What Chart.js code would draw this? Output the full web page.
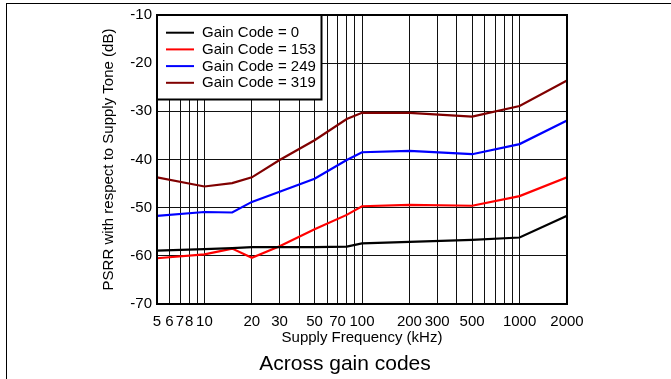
<!DOCTYPE html>
<html>
<head>
<meta charset="utf-8">
<script src="https://cdn.jsdelivr.net/npm/chart.js@4.4.0/dist/chart.umd.min.js"></script>
<style>
  html, body { margin: 0; padding: 0; background: #fff; }
  #wrap { position: relative; width: 671px; height: 379px; overflow: hidden; }
  #frame { position: absolute; left: 6px; top: 3px; right: -2px; bottom: -2px;
           border-top: 1px solid #000; border-left: 1px solid #000; pointer-events: none; }
  canvas { position: absolute; left: 0; top: 0; }
</style>
</head>
<body>
<div id="wrap">
  <canvas id="psrr" width="671" height="379"></canvas>
  <div id="frame"></div>
</div>
<script>
// ---- data ----
const freqKHz = [5, 10, 15, 20, 30, 50, 80, 100, 200, 500, 1000, 2000];

const gain0   = [-58.9, -58.6, -58.4, -58.2, -58.2, -58.2, -58.1, -57.4, -57.1, -56.7, -56.2, -51.7];
const gain153 = [-60.5, -59.7, -58.5, -60.4, -58.0, -54.5, -51.5, -49.7, -49.4, -49.6, -47.6, -43.7];
const gain249 = [-51.7, -50.9, -51.0, -48.8, -46.7, -44.0, -40.1, -38.5, -38.2, -38.9, -36.8, -31.9];
const gain319 = [-43.7, -45.6, -44.9, -43.7, -40.1, -36.0, -31.6, -30.3, -30.3, -31.1, -28.9, -23.6];

const seriesLabels = ['Gain Code = 0', 'Gain Code = 153', 'Gain Code = 249', 'Gain Code = 319'];
const seriesColors = ['#000000', '#ff0000', '#0000ff', '#800000'];

// tick labels shown under the log axis, and the grid positions (1..9 per decade)
const xTickLabels = [5, 6, 7, 8, 10, 20, 30, 50, 70, 100, 200, 300, 500, 1000, 2000];
const xGridTicks = [5, 6, 7, 8, 9, 10, 20, 30, 40, 50, 60, 70, 80, 90,
                    100, 200, 300, 400, 500, 600, 700, 800, 900, 1000, 2000];
const yTicks = [-70, -60, -50, -40, -30, -20, -10];

const FONT = "'Liberation Sans', Arial, sans-serif";

function toPoints(values) {
    return freqKHz.map((f, i) => ({ x: f, y: values[i] }));
}

const seriesValues = [gain0, gain153, gain249, gain319];

// ---- plugins: plot frame, inset legend, caption ----
const plotFrame = {
    id: 'plotFrame',
    afterDatasetsDraw(chart) {
        const { ctx, chartArea: a } = chart;
        ctx.save();
        ctx.strokeStyle = '#000';
        ctx.lineWidth = 2;
        ctx.strokeRect(a.left, a.top, a.right - a.left, a.bottom - a.top);

        // legend box in the upper-left corner of the plot
        ctx.fillStyle = '#fff';
        ctx.fillRect(a.left, a.top, 164.5, 84.5);
        ctx.strokeRect(a.left, a.top, 164.5, 84.5);
        ctx.font = '15px ' + FONT;
        ctx.textBaseline = 'middle';
        ctx.textAlign = 'left';
        chart.data.datasets.forEach((ds, i) => {
            const y = a.top + 17.7 + 16.7 * i;
            ctx.strokeStyle = ds.borderColor;
            ctx.beginPath();
            ctx.moveTo(a.left + 9, y);
            ctx.lineTo(a.left + 37, y);
            ctx.stroke();
            ctx.fillStyle = '#000';
            ctx.fillText(ds.label, a.left + 45, y + 0.5);
        });
        ctx.restore();
    }
};

const caption = {
    id: 'caption',
    afterDraw(chart) {
        const { ctx } = chart;
        ctx.save();
        ctx.font = '21px ' + FONT;
        ctx.fillStyle = '#000';
        ctx.textAlign = 'center';
        ctx.textBaseline = 'alphabetic';
        ctx.fillText('Across gain codes', 345, 370);
        ctx.restore();
    }
};

new Chart(document.getElementById('psrr'), {
    type: 'line',
    data: {
        datasets: seriesValues.map((vals, i) => ({
            label: seriesLabels[i],
            data: toPoints(vals),
            borderColor: seriesColors[i],
            backgroundColor: seriesColors[i],
            borderWidth: 2.2,
            pointRadius: 0,
            tension: 0
        }))
    },
    options: {
        responsive: false,
        animation: false,
        events: [],
        layout: { padding: { left: 0, top: 15, right: 104, bottom: 31 } },
        plugins: {
            legend: { display: false },
            tooltip: { enabled: false },
            title: { display: false }
        },
        scales: {
            x: {
                type: 'logarithmic',
                min: 5,
                max: 2000,
                afterBuildTicks: (scale) => {
                    scale.ticks = xGridTicks.map(v => ({ value: v }));
                },
                afterFit: (scale) => { scale.height = 44; },
                ticks: {
                    autoSkip: false,
                    maxRotation: 0,
                    minRotation: 0,
                    padding: 9,
                    color: '#000',
                    font: { family: FONT, size: 15 },
                    callback: (v) => xTickLabels.includes(v) ? String(v) : ''
                },
                grid: { color: '#111', lineWidth: 1, drawTicks: false },
                border: { display: true, color: '#000', width: 2 },
                title: {
                    display: true,
                    text: 'Supply Frequency (kHz)',
                    color: '#000',
                    font: { family: FONT, size: 15 },
                    padding: { top: 0, bottom: 1 }
                }
            },
            y: {
                type: 'linear',
                min: -70,
                max: -10,
                afterBuildTicks: (scale) => {
                    scale.ticks = yTicks.map(v => ({ value: v }));
                },
                afterFit: (scale) => { scale.width = 157; },
                ticks: {
                    padding: 5,
                    color: '#000',
                    font: { family: FONT, size: 15 }
                },
                grid: { color: '#111', lineWidth: 1, drawTicks: false },
                border: { display: true, color: '#000', width: 2 },
                title: {
                    display: true,
                    text: 'PSRR with respect to Supply Tone (dB)',
                    color: '#000',
                    font: { family: FONT, size: 15 },
                    padding: { top: 100, bottom: 0 }
                }
            }
        }
    },
    plugins: [plotFrame, caption]
});
</script>
</body>
</html>
